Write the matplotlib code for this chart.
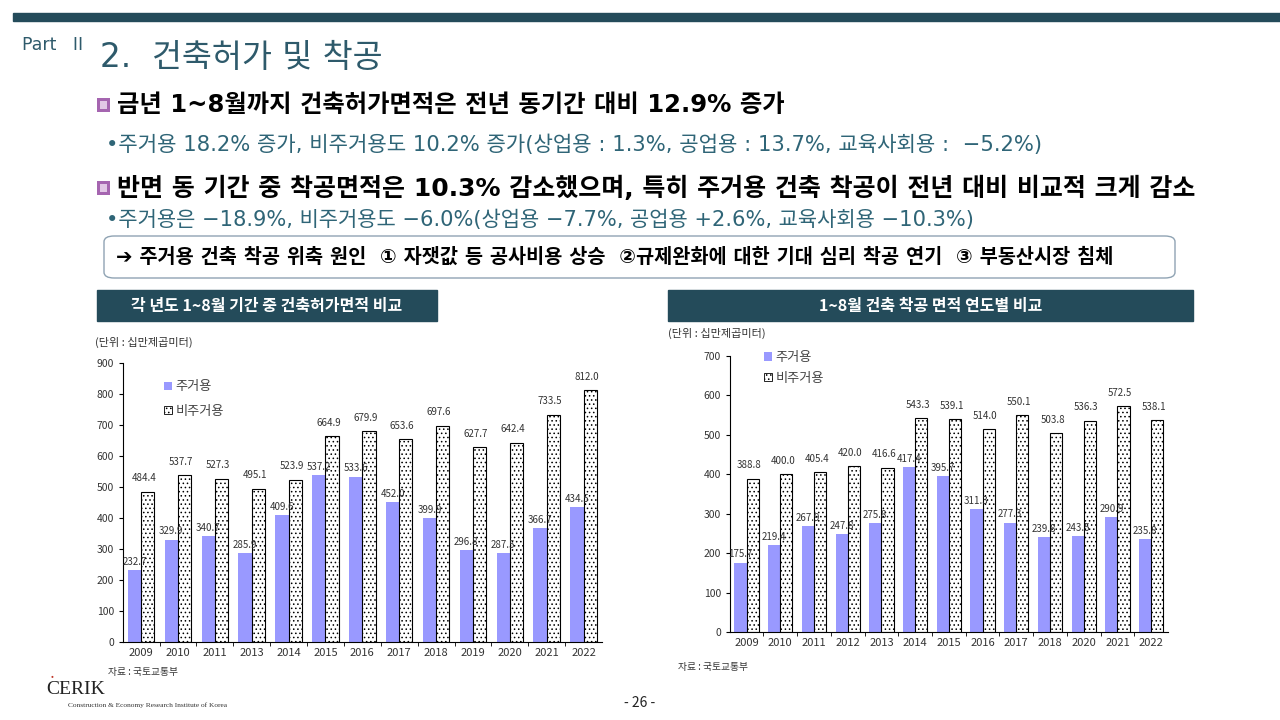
import numpy as np
import matplotlib
matplotlib.use('Agg')
import matplotlib.pyplot as plt
from matplotlib.patches import Rectangle, FancyBboxPatch, Patch

plt.rcParams['font.family'] = ['Noto Sans CJK KR', 'DejaVu Sans']
plt.rcParams['hatch.linewidth'] = 0.6

# 건축허가면적 (각 년도 1~8월)
permit_years = ['2009', '2010', '2011', '2013', '2014', '2015', '2016',
                '2017', '2018', '2019', '2020', '2021', '2022']
permit_res = [232.7, 329.9, 340.7, 285.9, 409.6, 537.2, 533.6,
              452.0, 399.9, 296.8, 287.5, 366.7, 434.5]
permit_nonres = [484.4, 537.7, 527.3, 495.1, 523.9, 664.9, 679.9,
                 653.6, 697.6, 627.7, 642.4, 733.5, 812.0]

# 착공면적 (1~8월)
start_years = ['2009', '2010', '2011', '2012', '2013', '2014', '2015',
               '2016', '2017', '2018', '2020', '2021', '2022']
start_res = [175.7, 219.4, 267.9, 247.8, 275.8, 417.4, 395.7,
             311.3, 277.3, 239.8, 243.5, 290.9, 235.8]
start_nonres = [388.8, 400.0, 405.4, 420.0, 416.6, 543.3, 539.1,
                514.0, 550.1, 503.8, 536.3, 572.5, 538.1]

teal = '#244b5a'
res_color = '#9999ff'
wide = ['DejaVu Sans', 'Noto Sans CJK KR']

W, H = 1280, 720
fig = plt.figure(figsize=(12.8, 7.2), dpi=100)


def fx(x):
    return x / W


def fy(y):
    return 1 - y / H


# top bar
fig.patches.append(Rectangle((fx(13), fy(21)), 1 - fx(13), 8 / H, color=teal,
                             transform=fig.transFigure, zorder=0))

fig.text(fx(22), fy(45), 'Part   II', fontsize=12.5, color='#2e5a6b', va='center',
         family=wide)
fig.text(fx(100), fy(57), '2.  건축허가 및 착공', fontsize=23.5, color='#2e5a6b',
         va='center', family=wide)


def bullet(y):
    fig.patches.append(Rectangle((fx(97), fy(y + 7)), 13 / W, 14 / H,
                                 facecolor='#a565b0', edgecolor='none',
                                 transform=fig.transFigure))
    fig.patches.append(Rectangle((fx(100), fy(y + 4)), 7 / W, 8 / H,
                                 facecolor='#e2c8e6', edgecolor='none',
                                 transform=fig.transFigure))


bullet(105)
fig.text(fx(117), fy(105), '금년 1~8월까지 건축허가면적은 전년 동기간 대비 12.9% 증가',
         fontsize=17.5, fontweight='bold', color='black', va='center', family=wide)
fig.text(fx(106), fy(145),
         '•주거용 18.2% 증가, 비주거용도 10.2% 증가(상업용 : 1.3%, 공업용 : 13.7%, 교육사회용 :  −5.2%)',
         fontsize=15.2, color='#2f6577', va='center', family=wide)
bullet(188)
fig.text(fx(117), fy(188),
         '반면 동 기간 중 착공면적은 10.3% 감소했으며, 특히 주거용 건축 착공이 전년 대비 비교적 크게 감소',
         fontsize=18, fontweight='bold', color='black', va='center', family=wide)
fig.text(fx(106), fy(220),
         '•주거용은 −18.9%, 비주거용도 −6.0%(상업용 −7.7%, 공업용 +2.6%, 교육사회용 −10.3%)',
         fontsize=15.1, color='#2f6577', va='center', family=wide)

fig.patches.append(FancyBboxPatch((fx(104), fy(278)), (1175 - 104) / W, 42 / H,
                                  boxstyle='round,pad=0,rounding_size=0.008',
                                  facecolor='white', edgecolor='#8fa3b3', lw=1,
                                  transform=fig.transFigure))
fig.text(fx(116), fy(257),
         '➔ 주거용 건축 착공 위축 원인  ① 자잿값 등 공사비용 상승  ②규제완화에 대한 기대 심리 착공 연기  ③ 부동산시장 침체',
         fontsize=14.2, fontweight='bold', color='black', va='center', family=wide)

# header boxes
for x0, x1, title in [(97, 437, '각 년도 1~8월 기간 중 건축허가면적 비교'),
                      (668, 1193, '1~8월 건축 착공 면적 연도별 비교')]:
    fig.patches.append(Rectangle((fx(x0), fy(321)), (x1 - x0) / W, 31 / H,
                                 color=teal, transform=fig.transFigure))
    fig.text(fx((x0 + x1) / 2), fy(306), title, fontsize=11.5, fontweight='bold',
             color='white', ha='center', va='center')

fig.text(fx(95), fy(342), '(단위 : 십만제곱미터)', fontsize=8, color='#333333', va='center')
fig.text(fx(668), fy(333), '(단위 : 십만제곱미터)', fontsize=8, color='#333333', va='center')


def draw(ax, years, res, nonres, ymax, step, leg_xy, spacing):
    x = np.arange(len(years))
    w = 0.36
    ax.bar(x - w / 2, res, w, color=res_color, edgecolor='none')
    ax.bar(x + w / 2, nonres, w, facecolor='white', edgecolor='black',
           hatch='....', lw=0.8)
    for i in range(len(years)):
        ax.text(x[i] - w / 2, res[i] + ymax * 0.012, f'{res[i]:.1f}', ha='center',
                va='bottom', fontsize=7, color='#333333')
        ax.text(x[i] + w / 2 - 0.1, nonres[i] + ymax * 0.03, f'{nonres[i]:.1f}',
                ha='center', va='bottom', fontsize=7, color='#333333')
    ax.set_xlim(-0.49, len(years) - 0.5)
    ax.set_ylim(0, ymax)
    ax.set_yticks(np.arange(0, ymax + 1, step))
    ax.set_xticks(x)
    ax.set_xticklabels(years)
    ax.set_xticks(np.arange(0.5, len(years) - 1, 1), minor=True)
    ax.tick_params(axis='x', which='major', length=0, labelsize=8,
                   labelcolor='#333333', pad=4)
    ax.tick_params(axis='x', which='minor', length=3, direction='out')
    ax.tick_params(axis='y', length=3, labelsize=7.5, labelcolor='#333333')
    for s in ['top', 'right']:
        ax.spines[s].set_visible(False)
    for s in ['left', 'bottom']:
        ax.spines[s].set_linewidth(0.8)
    handles = [Patch(facecolor=res_color, edgecolor='none', label='주거용'),
               Patch(facecolor='white', edgecolor='black', hatch='....', lw=0.6,
                     label='비주거용')]
    ax.legend(handles=handles, loc='upper left', bbox_to_anchor=leg_xy,
              frameon=False, fontsize=9.5, handlelength=0.6, handleheight=0.6,
              handletextpad=0.3, labelspacing=spacing, labelcolor='#444444')


ax1 = fig.add_axes([fx(123), fy(642), (602 - 123) / W, (642 - 363) / H])
draw(ax1, permit_years, permit_res, permit_nonres, 900, 100, (0.06, 0.98), 0.85)

ax2 = fig.add_axes([fx(730), fy(632), (1168 - 730) / W, (632 - 356) / H])
draw(ax2, start_years, start_res, start_nonres, 700, 100, (0.05, 1.06), 0.55)

fig.text(fx(108), fy(672), '자료 : 국토교통부', fontsize=7, color='#333333', va='center')
fig.text(fx(678), fy(667), '자료 : 국토교통부', fontsize=7, color='#333333', va='center')

fig.text(fx(46), fy(690), 'CERIK', fontsize=14, family='Liberation Serif',
         color='#222222', va='center')
fig.text(fx(52), fy(676), '•', fontsize=6, color='#c0392b', ha='center', va='center')
fig.text(fx(68), fy(705), 'Construction & Economy Research Institute of Korea',
         fontsize=5.3, family='Liberation Serif', color='#333333', va='center')
fig.text(fx(640), fy(703), '- 26 -', fontsize=10, color='#222222', ha='center',
         va='center')

fig.savefig('out.png', dpi=100)
